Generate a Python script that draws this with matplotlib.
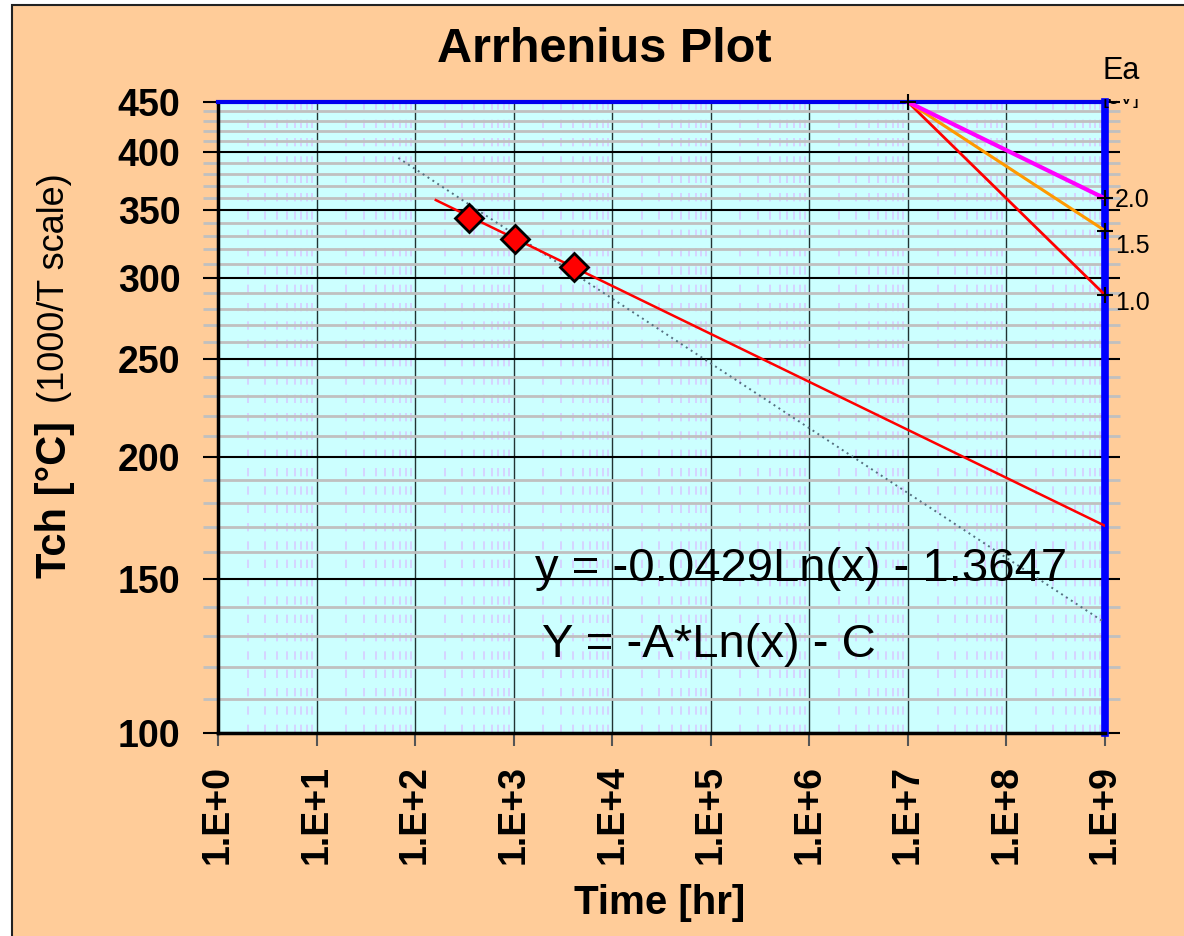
import numpy as np
import matplotlib
matplotlib.use("Agg")
from matplotlib import pyplot as plt
from matplotlib.patches import Rectangle
from matplotlib.transforms import Bbox, TransformedBbox
from matplotlib.ticker import FixedLocator, NullFormatter

plt.rcParams['font.family'] = ['Liberation Sans', 'DejaVu Sans']

# measured points (time in hr, Tch in degC)
data_time = [355, 1040, 4070]
data_temp = [344, 327.5, 307.5]

# trend line y = -0.0429 Ln(x) - 1.3647, end points
fit_time = [10**2.21, 1e9]
fit_temp = [358, 170.5]

# dotted reference line
ref_time = [10**1.83, 1e9]
ref_temp = [394.5, 134.5]

# activation energy guide lines, from (1e7 hr, 450 C) to 1e9 hr
ea_labels = ["1.0", "1.5", "2.0"]
ea_start_time = 1e7
ea_start_temp = 450
ea_end_time = 1e9
ea_end_temp = [288.8, 333.9, 359.3]
ea_colors = ["#FF0000", "#FF9900", "#FF00FF"]
ea_widths = [2, 2.2, 3]
ea_label_dy = [-6, -11, -1]

y_major = [100, 150, 200, 250, 300, 350, 400, 450]
y_minor = [t for t in range(110, 450, 10) if t % 50]
x_major = [10.0**k for k in range(10)]
x_labels = ["1.E+%d" % k for k in range(10)]


def fwd(t):
    t = np.asarray(t, dtype=float)
    with np.errstate(divide="ignore", invalid="ignore"):
        return -1000.0 / (t + 273.15)


def inv(y):
    y = np.asarray(y, dtype=float)
    with np.errstate(divide="ignore", invalid="ignore"):
        return -1000.0 / y - 273.15


def fx(px):
    return px / 1184


def fy(py):
    return 1 - py / 936


fig = plt.figure(figsize=(11.84, 9.36), dpi=100)
fig.patch.set_facecolor("white")
fig.add_artist(Rectangle((fx(12), -0.05), 1.2, 1.05 - 5 / 936,
                         transform=fig.transFigure, facecolor="#FFCC99",
                         edgecolor="#222222", lw=1.5, zorder=-10))

ax = fig.add_axes([fx(218), fy(733), (1105 - 218) / 1184, (733 - 102) / 936])
ax.set_facecolor("#CCFFFF")
ax.set_xscale("log")
ax.set_yscale("function", functions=(fwd, inv))
ax.set_xlim(1, 1e9)
ax.set_ylim(100, 450)

# ticks and grid
ax.set_axisbelow(True)
ax.xaxis.set_major_locator(FixedLocator(x_major))
ax.set_xticklabels(x_labels)
ax.xaxis.set_minor_locator(FixedLocator([m * 10.0**k for k in range(9) for m in range(2, 10)]))
ax.xaxis.set_minor_formatter(NullFormatter())
ax.yaxis.set_major_locator(FixedLocator(y_major))
ax.set_yticklabels([str(v) for v in y_major])
ax.yaxis.set_minor_locator(FixedLocator(y_minor))
ax.yaxis.set_minor_formatter(NullFormatter())

ax.grid(which="minor", axis="x", color="#D8CCFF", lw=1.2, ls=(0, (5, 6)))
ax.grid(which="minor", axis="y", color="#C0C0C0", lw=2)
ax.grid(which="major", axis="x", color="#223333", lw=1)
ax.grid(which="major", axis="y", color="black", lw=1.5)

ax.tick_params(axis="x", which="major", direction="out", length=9, width=1.5,
               color="#555555", pad=14, labelsize=27, labelrotation=90)
ax.tick_params(axis="x", which="minor", length=0)
ax.tick_params(axis="y", which="major", left=True, right=True, direction="out",
               length=11, width=1.5, color="black", pad=16, labelsize=27)
ax.tick_params(axis="y", which="minor", left=True, right=True, direction="out",
               length=11, width=2, color="#C0C0C0")
for lab in ax.get_xticklabels() + ax.get_yticklabels():
    lab.set_fontweight("bold")

for s in ["left", "bottom"]:
    ax.spines[s].set_color("black")
    ax.spines[s].set_linewidth(2.5)
ax.spines["top"].set_color("#0000EE")
ax.spines["top"].set_linewidth(3)
ax.spines["right"].set_color("#0000FF")
ax.spines["right"].set_linewidth(5.5)

# lines and points
ax.plot(ref_time, ref_temp, color="#557080", lw=1.4, ls=(0, (1, 2)), zorder=3)
ax.plot(fit_time, fit_temp, color="#FF0000", lw=1.8, zorder=4)
ax.plot(data_time, data_temp, ls="none", marker="D", ms=14, mfc="#FF0000",
        mec="black", mew=2, zorder=6)

for lbl, t_end, c, w, dy in zip(ea_labels, ea_end_temp, ea_colors, ea_widths, ea_label_dy):
    ax.plot([ea_start_time, ea_end_time], [ea_start_temp, t_end], color=c, lw=w, zorder=5)
    ax.plot([ea_end_time], [t_end], ls="none", marker="+", ms=11, mec="black",
            mew=1.5, zorder=7, clip_on=False)
    ax.annotate(lbl, (ea_end_time, t_end), xytext=(7, dy), textcoords="offset points",
                va="center", ha="left", fontsize=18, annotation_clip=False)
ax.plot([ea_start_time], [ea_start_temp], ls="none", marker="+", ms=11, mec="black",
        mew=1.5, zorder=7, clip_on=False)

# equations
fig.text(fx(535), fy(569), "y = -0.0429Ln(x) - 1.3647", fontsize=34, va="center", ha="left")
fig.text(fx(542), fy(645), "Y = -A*Ln(x) - C", fontsize=34, va="center", ha="left")

# titles and labels
fig.text(fx(604), fy(50), "Arrhenius Plot", fontsize=35, fontweight="bold",
         ha="center", va="center")
fig.text(fx(660), fy(903), "Time [hr]", fontsize=29, fontweight="bold",
         ha="center", va="center")
fig.text(fx(55), fy(500), "Tch [°C]", fontsize=30, fontweight="bold", rotation=90,
         ha="center", va="center")
fig.text(fx(55), fy(288), "(1000/T scale)", fontsize=26, rotation=90,
         ha="center", va="center")
fig.text(fx(1121), fy(71), "Ea", fontsize=22, ha="center", va="center")
ev = fig.text(fx(1121), fy(108), "[eV]", fontsize=15, ha="center", va="bottom")
ev.set_clip_box(TransformedBbox(Bbox.from_extents(fx(1080), fy(108), fx(1170), fy(99)),
                                fig.transFigure))
ev.set_clip_on(True)

fig.savefig("out.png", dpi=100, facecolor=fig.get_facecolor())
